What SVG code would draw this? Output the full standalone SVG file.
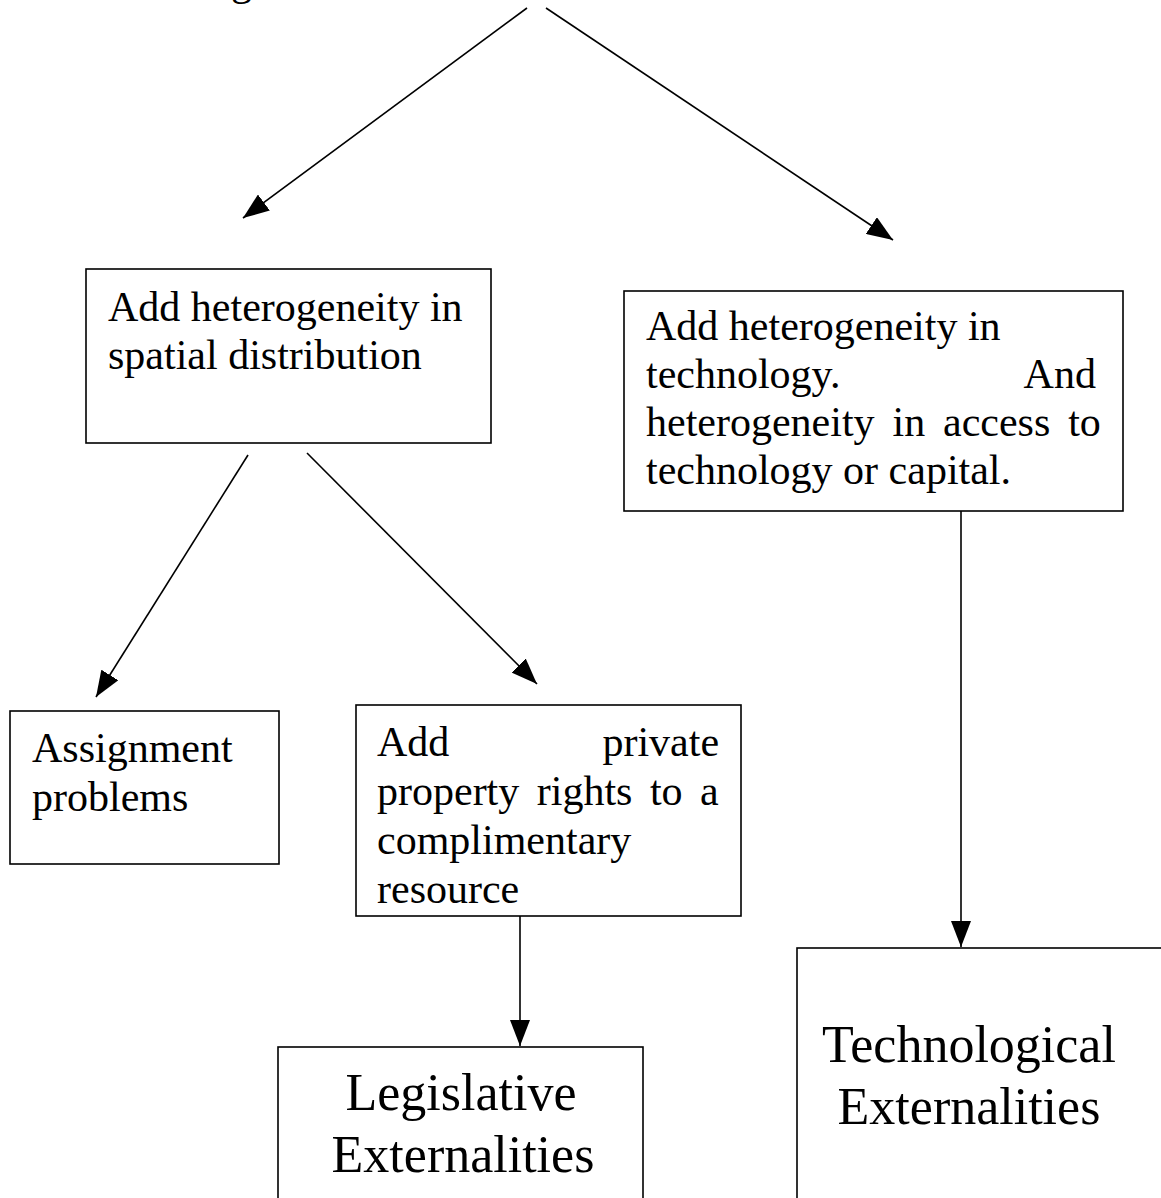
<svg xmlns="http://www.w3.org/2000/svg" width="1161" height="1198" viewBox="0 0 1161 1198">
<style>
.box{fill:#fff;stroke:#000;stroke-width:1.6}
.t{font-family:"Liberation Serif","Times New Roman",serif;font-size:42px;fill:#000}
.big{font-family:"Liberation Serif","Times New Roman",serif;font-size:52px;fill:#000;text-anchor:middle}
.edge{stroke:#000;stroke-width:1.6;fill:none;marker-end:url(#arr)}
</style>
<defs>
<marker id="arr" markerUnits="userSpaceOnUse" markerWidth="26" markerHeight="20" viewBox="0 0 26 20" refX="26" refY="10" orient="auto">
<path d="M0,0 L26,10 L0,20 Z" fill="#000"/>
</marker>
</defs>
<rect width="1161" height="1198" fill="#fff"/>
<text class="t" x="231" y="-5">g</text>
<g id="connectors">
<line class="edge" x1="527" y1="8" x2="243" y2="218"/>
<line class="edge" x1="546" y1="8" x2="893" y2="240"/>
<line class="edge" x1="248" y1="455" x2="96" y2="697"/>
<line class="edge" x1="307" y1="453" x2="537" y2="684"/>
<line class="edge" x1="520" y1="916" x2="520" y2="1046"/>
<line class="edge" x1="961" y1="511" x2="961" y2="947"/>
</g>
<g id="spatial">
<rect class="box" x="86" y="269" width="405" height="174"/>
<text class="t" x="108" y="321">Add heterogeneity in</text>
<text class="t" x="108" y="369">spatial distribution</text>
</g>
<g id="technology">
<rect class="box" x="624" y="291" width="499" height="220"/>
<text class="t" x="646" y="340">Add heterogeneity in</text>
<text class="t" x="646" y="388" word-spacing="175">technology. And</text>
<text class="t" x="646" y="436" word-spacing="7.4">heterogeneity in access to</text>
<text class="t" x="646" y="484">technology or capital.</text>
</g>
<g id="assignment">
<rect class="box" x="10" y="711" width="269" height="153"/>
<text class="t" x="32" y="762">Assignment</text>
<text class="t" x="32" y="811">problems</text>
</g>
<g id="property">
<rect class="box" x="356" y="705" width="385" height="211"/>
<text class="t" x="377" y="756" word-spacing="142.6">Add private</text>
<text class="t" x="377" y="805" word-spacing="7">property rights to a</text>
<text class="t" x="377" y="854">complimentary</text>
<text class="t" x="377" y="903">resource</text>
</g>
<g id="legislative">
<rect class="box" x="278" y="1047" width="365" height="200"/>
<text class="big" x="461" y="1110">Legislative</text>
<text class="big" x="463" y="1172">Externalities</text>
</g>
<g id="technological">
<rect class="box" x="797" y="948" width="400" height="300"/>
<text class="big" x="969" y="1062">Technological</text>
<text class="big" x="969" y="1124">Externalities</text>
</g>
</svg>
